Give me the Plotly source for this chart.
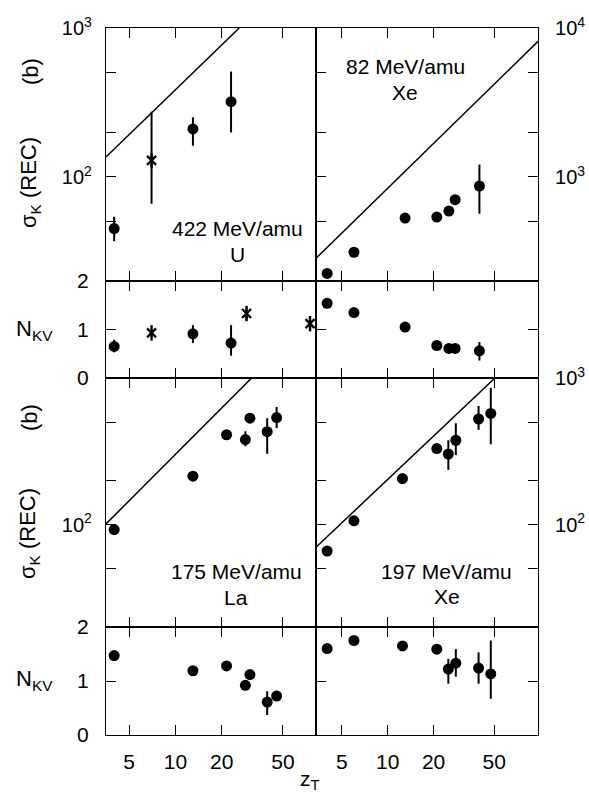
import plotly.graph_objects as go
import math

W, H = 589, 797
FONT = "Liberation Sans, Arial, sans-serif"

# ---------------- data ----------------
# Panel A: 422 MeV/amu U
a_circ_z = [4, 13, 23]
a_circ_sig = [45, 210, 320]
a_circ_sig_up = [9, 41, 190]
a_circ_sig_dn = [8, 48, 121]
a_star_z = [7]
a_star_sig = [129]
a_star_sig_up = [145]
a_star_sig_dn = [63]
a_circ_nkv = [0.65, 0.91, 0.72]
a_circ_nkv_up = [0.14, 0.18, 0.37]
a_circ_nkv_dn = [0.12, 0.19, 0.26]
a_star_nkv_z = [7, 29, 75]
a_star_nkv = [0.93, 1.33, 1.12]
a_star_nkv_up = [0, 0.11, 0]
a_star_nkv_dn = [0, 0.14, 0]
a_line_z = [3.54, 26]
a_line_sig = [136, 1000]

# Panel B: 82 MeV/amu Xe
b_z = [4, 6, 13, 21, 25.2, 27.7, 40]
b_sig = [225, 312, 529, 537, 590, 703, 869]
b_sig_up = [0, 0, 0, 20, 25, 0, 341]
b_sig_dn = [0, 0, 0, 20, 25, 0, 303]
b_nkv = [1.54, 1.35, 1.05, 0.67, 0.61, 0.61, 0.56]
b_nkv_up = [0, 0, 0, 0, 0, 0, 0.18]
b_nkv_dn = [0, 0, 0, 0, 0, 0, 0.20]
b_line_z = [3.38, 97]
b_line_sig = [284, 8130]

# Panel C: 175 MeV/amu La
c_z = [4, 13, 21.5, 28.5, 30.5, 39.5, 45.5]
c_sig = [92.5, 214, 410, 380, 532, 430, 537]
c_sig_up = [0, 0, 15, 53, 20, 102, 97]
c_sig_dn = [0, 0, 15, 38, 20, 126, 82]
c_nkv = [1.47, 1.19, 1.28, 0.92, 1.12, 0.61, 0.72]
c_nkv_up = [0, 0, 0, 0, 0, 0.20, 0.08]
c_nkv_dn = [0, 0, 0, 0, 0, 0.24, 0.08]
c_line_z = [3.54, 31.3]
c_line_sig = [101, 1000]

# Panel D: 197 MeV/amu Xe
d_z = [4, 6, 12.5, 21, 25, 28, 39.5, 47.5]
d_sig = [66, 106, 206, 330, 303, 376, 525, 573]
d_sig_up = [0, 8, 12, 15, 73, 115, 120, 284]
d_sig_dn = [0, 8, 12, 15, 67, 78, 82, 220]
d_nkv = [1.60, 1.75, 1.65, 1.59, 1.22, 1.33, 1.24, 1.13]
d_nkv_up = [0, 0, 0, 0, 0.19, 0.26, 0.29, 0.62]
d_nkv_dn = [0, 0, 0, 0, 0.27, 0.25, 0.29, 0.46]
d_line_z = [3.38, 50.6]
d_line_sig = [70, 1000]

x_tickvals = [5, 10, 20, 50]
x_ticktext = ["5", "10", "20", "50"]

# ---------------- layout helpers ----------------
def px_x(p):
    return p / W

def px_y(p):
    return 1 - p / H

XL = [px_x(106), px_x(316)]
XR = [px_x(316), px_x(538)]
Y_TOP_MAIN = [px_y(281), px_y(28)]
Y_TOP_N = [px_y(378), px_y(281)]
Y_BOT_MAIN = [px_y(627), px_y(378)]
Y_BOT_N = [px_y(735), px_y(627)]

RANGE_XL = [math.log10(3.54), math.log10(82)]
RANGE_XR = [math.log10(3.38), math.log10(97)]

fig = go.Figure()

def err(up, dn):
    return dict(type="data", symmetric=False, array=up, arrayminus=dn,
                width=0, thickness=2, color="black")

def circles(xs, ys, up, dn, ax):
    fig.add_trace(go.Scatter(x=xs, y=ys, mode="markers", xaxis="x" + ax, yaxis="y" + ax,
                             marker=dict(symbol="circle", size=11, color="black"),
                             error_y=err(up, dn), showlegend=False, cliponaxis=False))

def stars(xs, ys, up, dn, ax):
    fig.add_trace(go.Scatter(x=xs, y=ys, mode="markers", xaxis="x" + ax, yaxis="y" + ax,
                             marker=dict(symbol="x-thin-open", size=9, color="black",
                                         line=dict(color="black", width=2.4)),
                             error_y=err(up, dn), showlegend=False))
    fig.add_trace(go.Scatter(x=xs, y=ys, mode="markers", xaxis="x" + ax, yaxis="y" + ax,
                             marker=dict(symbol="line-ns-open", size=11, color="black",
                                         line=dict(color="black", width=2.4)),
                             showlegend=False))

def theory(xs, ys, ax):
    fig.add_trace(go.Scatter(x=xs, y=ys, mode="lines", xaxis="x" + ax, yaxis="y" + ax,
                             line=dict(color="black", width=1.5), showlegend=False))

# panel A
theory(a_line_z, a_line_sig, "")
circles(a_circ_z, a_circ_sig, a_circ_sig_up, a_circ_sig_dn, "")
stars(a_star_z, a_star_sig, a_star_sig_up, a_star_sig_dn, "")
circles(a_circ_z, a_circ_nkv, a_circ_nkv_up, a_circ_nkv_dn, "2")
stars(a_star_nkv_z, a_star_nkv, a_star_nkv_up, a_star_nkv_dn, "2")
# panel B
theory(b_line_z, b_line_sig, "3")
circles(b_z, b_sig, b_sig_up, b_sig_dn, "3")
circles(b_z, b_nkv, b_nkv_up, b_nkv_dn, "4")
# panel C
theory(c_line_z, c_line_sig, "5")
circles(c_z, c_sig, c_sig_up, c_sig_dn, "5")
circles(c_z, c_nkv, c_nkv_up, c_nkv_dn, "6")
# panel D
theory(d_line_z, d_line_sig, "7")
circles(d_z, d_sig, d_sig_up, d_sig_dn, "7")
circles(d_z, d_nkv, d_nkv_up, d_nkv_dn, "8")

common = dict(showgrid=False, zeroline=False, showline=True, linecolor="black", linewidth=1.2,
              ticks="inside", ticklen=10, tickwidth=1.3, tickcolor="black", automargin=False,
              tickfont=dict(family=FONT, size=21, color="black"))

def xaxis(domain, rng, anchor, labels):
    return dict(common, type="log", domain=domain, range=rng, anchor=anchor,
                tickvals=x_tickvals, ticktext=x_ticktext, showticklabels=labels,
                mirror="ticks", ticklabelstandoff=8)

def yaxis_main(domain, rng, anchor, tickvals, ticktext, side):
    d = dict(common, type="log", domain=domain, range=rng, anchor=anchor,
             tickvals=tickvals, ticktext=ticktext, side=side)
    d["tickfont"] = dict(family=FONT, size=20, color="black")
    if side == "left":
        d.update(mirror=True, ticklabelstandoff=9)
    else:
        d.update(mirror="ticks", ticklabelstandoff=12)
    return d

def yaxis_n(domain, anchor, side):
    d = dict(common, type="linear", domain=domain, range=[0, 2], anchor=anchor, side=side)
    if side == "left":
        d.update(tickvals=[0, 1, 2], ticktext=["0", "1", "2"], mirror=True, ticklabelstandoff=12)
    else:
        d.update(tickvals=[1], showticklabels=False, mirror="ticks")
    return d

lo_vals = [50, 100, 200, 500, 1000]
lo_text = ["", "10<sup>2</sup>", "", "", "10<sup>3</sup>"]
hi_vals = [500, 1000, 2000, 5000, 10000]
hi_text = ["", "10<sup>3</sup>", "", "", "10<sup>4</sup>"]

fig.update_layout(
    width=W, height=H, margin=dict(l=0, r=0, t=0, b=0),
    paper_bgcolor="white", plot_bgcolor="white", showlegend=False,
    font=dict(family=FONT, size=22, color="black"),
    xaxis=xaxis(XL, RANGE_XL, "y", False),
    yaxis=yaxis_main(Y_TOP_MAIN, [math.log10(20), 3], "x", lo_vals, lo_text, "left"),
    xaxis2=xaxis(XL, RANGE_XL, "y2", False),
    yaxis2=yaxis_n(Y_TOP_N, "x2", "left"),
    xaxis3=xaxis(XR, RANGE_XR, "y3", False),
    yaxis3=yaxis_main(Y_TOP_MAIN, [math.log10(200), 4], "x3", hi_vals, hi_text, "right"),
    xaxis4=xaxis(XR, RANGE_XR, "y4", False),
    yaxis4=yaxis_n(Y_TOP_N, "x4", "right"),
    xaxis5=xaxis(XL, RANGE_XL, "y5", False),
    yaxis5=yaxis_main(Y_BOT_MAIN, [math.log10(20), 3], "x5", lo_vals, ["", "10<sup>2</sup>", "", "", ""], "left"),
    xaxis6=xaxis(XL, RANGE_XL, "y6", True),
    yaxis6=yaxis_n(Y_BOT_N, "x6", "left"),
    xaxis7=xaxis(XR, RANGE_XR, "y7", False),
    yaxis7=yaxis_main(Y_BOT_MAIN, [math.log10(20), 3], "x7", lo_vals, lo_text, "right"),
    xaxis8=xaxis(XR, RANGE_XR, "y8", True),
    yaxis8=yaxis_n(Y_BOT_N, "x8", "right"),
)

def note(text, xp, yp, size=21, angle=0):
    fig.add_annotation(text=text, x=px_x(xp), y=px_y(yp), xref="paper", yref="paper",
                       showarrow=False, xanchor="center", yanchor="middle",
                       textangle=angle, font=dict(family=FONT, size=size, color="black"))

note("422 MeV/amu", 237, 228)
note("U", 237, 254)
note("82 MeV/amu", 405, 67)
note("Xe", 405, 92)
note("175 MeV/amu", 236, 571)
note("La", 236, 597)
note("197 MeV/amu", 447, 571)
note("Xe", 447, 596)

note("σ<sub>K</sub> (REC)", 30, 183, size=22, angle=-90)
note("(b)", 30, 72, size=22, angle=-90)
note("σ<sub>K</sub> (REC)", 29, 534, size=22, angle=-90)
note("(b)", 29, 418, size=22, angle=-90)
note("N<sub>KV</sub>", 34, 330, size=22)
note("N<sub>KV</sub>", 34, 680, size=22)
note("z<sub>T</sub>", 310, 780, size=21)

fig.write_html("out.html", config={"displayModeBar": False},
               post_script="document.body.style.margin='0';document.body.style.overflow='hidden';")
